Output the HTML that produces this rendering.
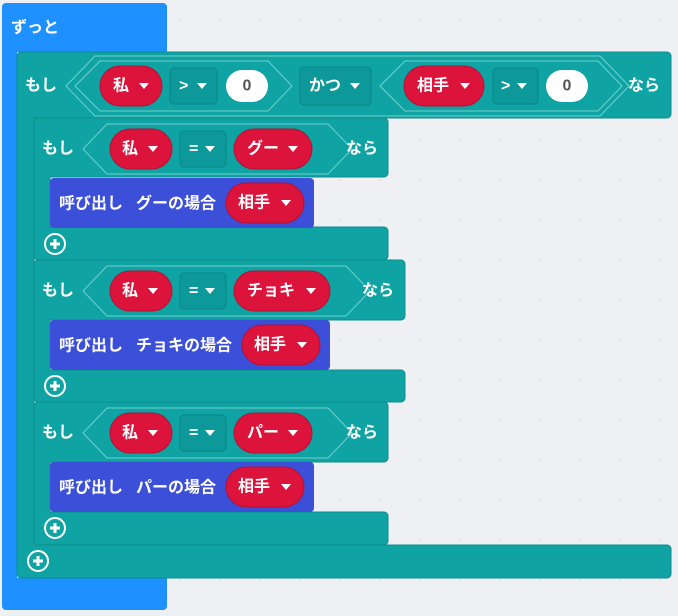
<!DOCTYPE html>
<html><head><meta charset="utf-8"><style>
html,body{margin:0;padding:0;background:#eef0f3;}
svg{display:block;}
text{font-family:"Liberation Sans","Noto Sans CJK JP",sans-serif;font-weight:bold;font-size:16px;fill:#fff;dominant-baseline:central;}
</style></head><body>
<svg width="678" height="616" viewBox="0 0 678 616" xmlns="http://www.w3.org/2000/svg">
<defs>
<pattern id="g" width="40" height="40" patternUnits="userSpaceOnUse"><circle cx="20" cy="20" r="1" fill="#dcdfe4"/></pattern>
</defs>
<rect width="678" height="616" fill="#eef0f3"/>
<rect width="678" height="616" fill="url(#g)"/>
<!-- forever -->
<path d="M6 3 H163 a4 4 0 0 1 4 4 V52 H17 V578 H167 V606 a4 4 0 0 1 -4 4 H6 a4 4 0 0 1 -4 -4 V7 a4 4 0 0 1 4 -4Z" fill="#1e90ff"/>
<text x="11" y="28">ずっと</text>
<!-- outer if -->
<path d="M21 52 H667 a4 4 0 0 1 4 4 V114 a4 4 0 0 1 -4 4 H34 V545 H667 a4 4 0 0 1 4 4 V574 a4 4 0 0 1 -4 4 H21 a4 4 0 0 1 -4 -4 V56 a4 4 0 0 1 4 -4Z" fill="#0fa3a3" stroke="#0c8d8d" stroke-width="1"/>
<text x="25" y="86">もし</text>
<polygon points="66,86 95,56 600,56 629,86 600,116 95,116" fill="none" stroke="#6fd1cf" stroke-width="1"/>
<polygon points="75,86 100,61 268,61 292,86 268,111 100,111" fill="none" stroke="#6fd1cf" stroke-width="1"/>
<polygon points="380,86 405,61 598,61 622,86 598,111 405,111" fill="none" stroke="#6fd1cf" stroke-width="1"/>
<rect x="100" y="66" width="62" height="40" rx="20" fill="#dc143c" stroke="#b51034"/>
<text x="113" y="86">私</text><polygon points="139,83 149,83 144,89" fill="#fff"/>
<rect x="170" y="68" width="47" height="36" rx="4" fill="#0d9999" stroke="#0b8585"/>
<text x="179" y="86" font-size="13">&gt;</text><polygon points="197,83 207,83 202,89" fill="#fff"/>
<rect x="226" y="70" width="42" height="32" rx="16" fill="#fff"/>
<text x="247" y="86" text-anchor="middle" style="fill:#555">0</text>
<rect x="300" y="67" width="71" height="38" rx="4" fill="#0d9999" stroke="#0b8585"/>
<text x="309" y="86">かつ</text><polygon points="350,83 360,83 355,89" fill="#fff"/>
<rect x="404" y="66" width="80" height="40" rx="20" fill="#dc143c" stroke="#b51034"/>
<text x="417" y="86">相手</text><polygon points="460,83 470,83 465,89" fill="#fff"/>
<rect x="493" y="68" width="45" height="36" rx="4" fill="#0d9999" stroke="#0b8585"/>
<text x="501" y="86" font-size="13">&gt;</text><polygon points="517,83 527,83 522,89" fill="#fff"/>
<rect x="546" y="70" width="42" height="32" rx="16" fill="#fff"/>
<text x="567" y="86" text-anchor="middle" style="fill:#555">0</text>
<text x="628" y="86">なら</text>
<!-- plus outer -->
<circle cx="38" cy="561" r="10" fill="none" stroke="#fff" stroke-width="2"/>
<path d="M33 561 H43 M38 556 V566" stroke="#fff" stroke-width="3"/>

<!-- inner if 1 -->
<g>
<path d="M38 118 H384 a4 4 0 0 1 4 4 V173 a4 4 0 0 1 -4 4 H50 V227 H384 a4 4 0 0 1 4 4 V256 a4 4 0 0 1 -4 4 H38 a4 4 0 0 1 -4 -4 V122 a4 4 0 0 1 4 -4Z" fill="#0fa3a3" stroke="#0c8d8d"/>
<text x="42" y="149">もし</text>
<polygon points="83,149 107,124 328,124 352,149 328,174 107,174" fill="none" stroke="#6fd1cf"/>
<rect x="110" y="129" width="62" height="40" rx="20" fill="#dc143c" stroke="#b51034"/>
<text x="122" y="149">私</text><polygon points="148,146 158,146 153,152" fill="#fff"/>
<rect x="180" y="131" width="46" height="36" rx="4" fill="#0d9999" stroke="#0b8585"/>
<text x="189" y="149" font-size="13">=</text><polygon points="205,146 215,146 210,152" fill="#fff"/>
<rect x="234" y="129" width="78" height="40" rx="20" fill="#dc143c" stroke="#b51034"/>
<text x="247" y="149">グー</text><polygon points="288,146 298,146 293,152" fill="#fff"/>
<text x="346" y="149">なら</text>
<rect x="50" y="178" width="264" height="50" rx="4" fill="#3c4fd8"/>
<text x="59" y="204">呼び出し</text><text x="136" y="204">グーの場合</text>
<rect x="226" y="183" width="78" height="40" rx="20" fill="#dc143c" stroke="#b51034"/>
<text x="238" y="203">相手</text><polygon points="281,200 291,200 286,206" fill="#fff"/>
<circle cx="55" cy="244" r="10" fill="none" stroke="#fff" stroke-width="2"/>
<path d="M50 244 H60 M55 239 V249" stroke="#fff" stroke-width="3"/>
</g>
<!-- inner if 2 -->
<g>
<path d="M38 260 H401 a4 4 0 0 1 4 4 V316 a4 4 0 0 1 -4 4 H50 V370 H401 a4 4 0 0 1 4 4 V398 a4 4 0 0 1 -4 4 H38 a4 4 0 0 1 -4 -4 V264 a4 4 0 0 1 4 -4Z" fill="#0fa3a3" stroke="#0c8d8d"/>
<text x="42" y="291">もし</text>
<polygon points="83,291 107,266 346,266 370,291 346,316 107,316" fill="none" stroke="#6fd1cf"/>
<rect x="110" y="271" width="62" height="40" rx="20" fill="#dc143c" stroke="#b51034"/>
<text x="122" y="291">私</text><polygon points="148,288 158,288 153,294" fill="#fff"/>
<rect x="180" y="273" width="46" height="36" rx="4" fill="#0d9999" stroke="#0b8585"/>
<text x="189" y="291" font-size="13">=</text><polygon points="205,288 215,288 210,294" fill="#fff"/>
<rect x="234" y="271" width="96" height="40" rx="20" fill="#dc143c" stroke="#b51034"/>
<text x="247" y="291">チョキ</text><polygon points="306,288 316,288 311,294" fill="#fff"/>
<text x="362" y="291">なら</text>
<rect x="50" y="320" width="280" height="50" rx="4" fill="#3c4fd8"/>
<text x="59" y="346">呼び出し</text><text x="136" y="346">チョキの場合</text>
<rect x="242" y="325" width="78" height="40" rx="20" fill="#dc143c" stroke="#b51034"/>
<text x="254" y="345">相手</text><polygon points="297,342 307,342 302,348" fill="#fff"/>
<circle cx="55" cy="386" r="10" fill="none" stroke="#fff" stroke-width="2"/>
<path d="M50 386 H60 M55 381 V391" stroke="#fff" stroke-width="3"/>
</g>
<!-- inner if 3 -->
<g>
<path d="M38 402 H384 a4 4 0 0 1 4 4 V458 a4 4 0 0 1 -4 4 H50 V512 H384 a4 4 0 0 1 4 4 V541 a4 4 0 0 1 -4 4 H38 a4 4 0 0 1 -4 -4 V406 a4 4 0 0 1 4 -4Z" fill="#0fa3a3" stroke="#0c8d8d"/>
<text x="42" y="433">もし</text>
<polygon points="83,433 107,408 328,408 352,433 328,458 107,458" fill="none" stroke="#6fd1cf"/>
<rect x="110" y="413" width="62" height="40" rx="20" fill="#dc143c" stroke="#b51034"/>
<text x="122" y="433">私</text><polygon points="148,430 158,430 153,436" fill="#fff"/>
<rect x="180" y="415" width="46" height="36" rx="4" fill="#0d9999" stroke="#0b8585"/>
<text x="189" y="433" font-size="13">=</text><polygon points="205,430 215,430 210,436" fill="#fff"/>
<rect x="234" y="413" width="78" height="40" rx="20" fill="#dc143c" stroke="#b51034"/>
<text x="247" y="433">パー</text><polygon points="288,430 298,430 293,436" fill="#fff"/>
<text x="346" y="433">なら</text>
<rect x="50" y="462" width="264" height="50" rx="4" fill="#3c4fd8"/>
<text x="59" y="488">呼び出し</text><text x="136" y="488">パーの場合</text>
<rect x="226" y="467" width="78" height="40" rx="20" fill="#dc143c" stroke="#b51034"/>
<text x="238" y="487">相手</text><polygon points="281,484 291,484 286,490" fill="#fff"/>
<circle cx="55" cy="528" r="10" fill="none" stroke="#fff" stroke-width="2"/>
<path d="M50 528 H60 M55 523 V533" stroke="#fff" stroke-width="3"/>
</g>
</svg>
</body></html>
